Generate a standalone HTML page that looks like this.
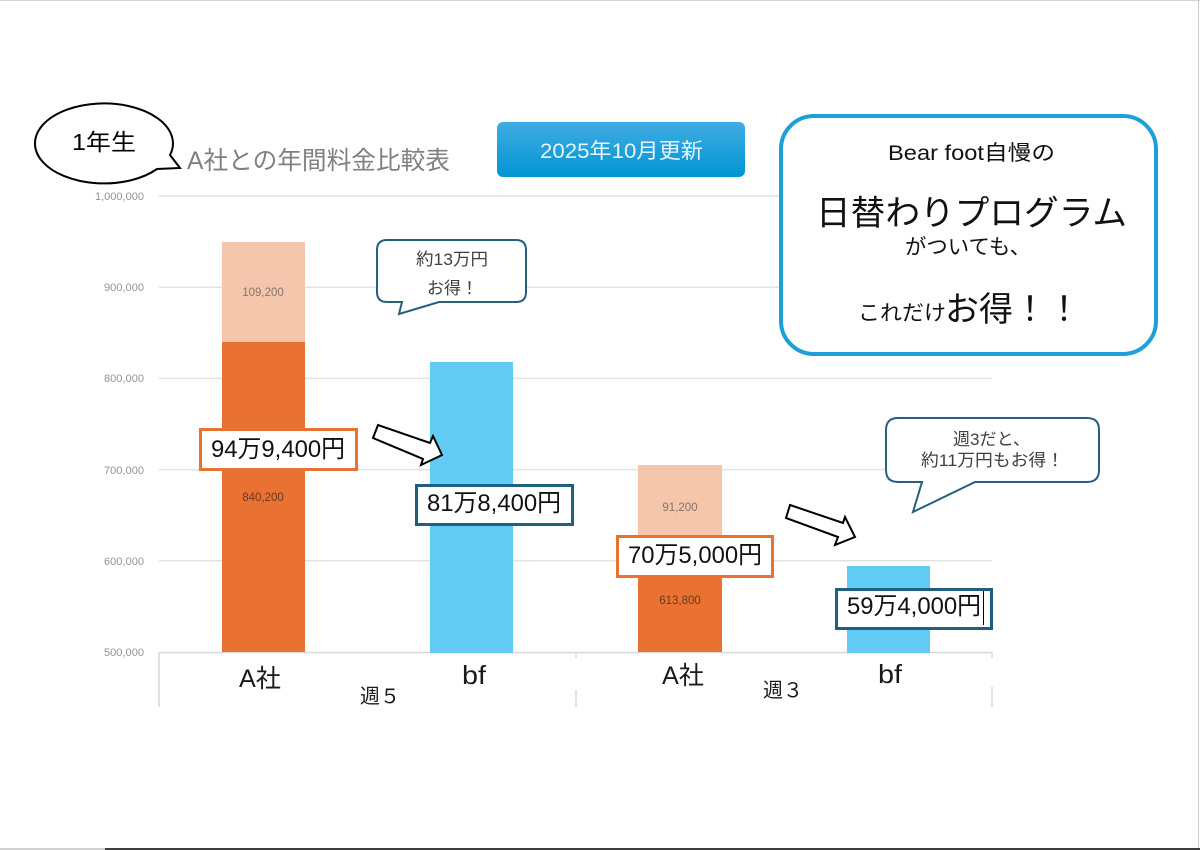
<!DOCTYPE html>
<html>
<head>
<meta charset="utf-8">
<style>
html,body{margin:0;padding:0;background:#fff;}
svg{display:block;}
text{font-family:"Liberation Sans","Noto Sans CJK JP",sans-serif;}
</style>
</head>
<body>
<svg width="1200" height="850" viewBox="0 0 1200 850" xmlns="http://www.w3.org/2000/svg">
  <defs>
    <linearGradient id="btn" x1="0" y1="0" x2="0" y2="1">
      <stop offset="0" stop-color="#41ACE2"/>
      <stop offset="1" stop-color="#0095D3"/>
    </linearGradient>
  </defs>
  <rect x="0" y="0" width="1200" height="850" fill="#ffffff"/>
  <!-- page borders -->
  <line x1="0" y1="0.5" x2="1200" y2="0.5" stroke="#d4d4d4" stroke-width="1"/>
  <line x1="1198.5" y1="0" x2="1198.5" y2="848" stroke="#c8c8c8" stroke-width="1"/>
  <rect x="0" y="848" width="105" height="2" fill="#d0d0d0"/>
  <rect x="105" y="848" width="1095" height="2" fill="#3f3f3f"/>

  <!-- gridlines -->
  <g stroke="#e2e2e2" stroke-width="1.5">
    <line x1="159" y1="196" x2="992" y2="196"/>
    <line x1="159" y1="287.2" x2="992" y2="287.2"/>
    <line x1="159" y1="378.4" x2="992" y2="378.4"/>
    <line x1="159" y1="469.6" x2="992" y2="469.6"/>
    <line x1="159" y1="560.8" x2="992" y2="560.8"/>
  </g>
  <line x1="159" y1="652.5" x2="992" y2="652.5" stroke="#d9d9d9" stroke-width="1.5"/>
  <g stroke="#d9d9d9" stroke-width="1.5">
    <line x1="159" y1="652" x2="159" y2="707"/>
    <line x1="576" y1="652" x2="576" y2="658"/>
    <line x1="576" y1="690" x2="576" y2="707"/>
    <line x1="992" y1="652" x2="992" y2="658"/>
    <line x1="992" y1="687" x2="992" y2="707"/>
  </g>

  <!-- y labels -->
  <g font-size="11" fill="#939393" text-anchor="end">
    <text x="144" y="200" textLength="49" lengthAdjust="spacingAndGlyphs">1,000,000</text>
    <text x="144" y="291" textLength="40" lengthAdjust="spacingAndGlyphs">900,000</text>
    <text x="144" y="382" textLength="40" lengthAdjust="spacingAndGlyphs">800,000</text>
    <text x="144" y="474" textLength="40" lengthAdjust="spacingAndGlyphs">700,000</text>
    <text x="144" y="565" textLength="40" lengthAdjust="spacingAndGlyphs">600,000</text>
    <text x="144" y="656" textLength="40" lengthAdjust="spacingAndGlyphs">500,000</text>
  </g>

  <!-- bars -->
  <rect x="222" y="242" width="83" height="100" fill="#F5C6AB"/>
  <rect x="222" y="342" width="83" height="310" fill="#E97132"/>
  <rect x="430" y="362" width="83" height="291" fill="#61CBF3"/>
  <rect x="638" y="465" width="84" height="83" fill="#F5C6AB"/>
  <rect x="638" y="548" width="84" height="104" fill="#E97132"/>
  <rect x="847" y="566" width="83" height="87" fill="#61CBF3"/>

  <!-- bar value labels -->
  <g font-size="11.5" text-anchor="middle">
    <text x="263" y="296" fill="#857468">109,200</text>
    <text x="263" y="501" fill="#6a3a1e">840,200</text>
    <text x="680" y="511" fill="#857468">91,200</text>
    <text x="680" y="604" fill="#6a3a1e">613,800</text>
  </g>

  <!-- category labels -->
  <g fill="#1a1a1a">
    <text x="239" y="687" font-size="25" textLength="42" lengthAdjust="spacingAndGlyphs">A社</text>
    <text x="462" y="684" font-size="26" textLength="24" lengthAdjust="spacingAndGlyphs">bf</text>
    <text x="360" y="703" font-size="20" textLength="40" lengthAdjust="spacingAndGlyphs">週５</text>
    <text x="662" y="684" font-size="25" textLength="42" lengthAdjust="spacingAndGlyphs">A社</text>
    <text x="878" y="683" font-size="26" textLength="24" lengthAdjust="spacingAndGlyphs">bf</text>
    <text x="763" y="697" font-size="20" textLength="40" lengthAdjust="spacingAndGlyphs">週３</text>
  </g>

  <!-- arrows -->
  <polygon points="378,425 430,443 433,436 442,455 421,465 423,459 373,438" fill="#ffffff" stroke="#000" stroke-width="2" stroke-linejoin="miter"/>
  <polygon points="790,505 843,523 845,517 855,537 835,545 838,537 786,518" fill="#ffffff" stroke="#000" stroke-width="2" stroke-linejoin="miter"/>

  <!-- value boxes -->
  <rect x="200.5" y="429.5" width="156" height="40" fill="#fff" stroke="#E97132" stroke-width="3"/>
  <rect x="416.5" y="485.5" width="156" height="39" fill="#fff" stroke="#1F5F7F" stroke-width="3"/>
  <rect x="617.5" y="536.5" width="155" height="40" fill="#fff" stroke="#E97132" stroke-width="3"/>
  <rect x="836.5" y="589.5" width="155" height="39" fill="#fff" stroke="#1F5F7F" stroke-width="3"/>
  <g font-size="24.5" fill="#111">
    <text x="211" y="457" textLength="134" lengthAdjust="spacingAndGlyphs">94万9,400円</text>
    <text x="427" y="511" textLength="134" lengthAdjust="spacingAndGlyphs">81万8,400円</text>
    <text x="628" y="563" textLength="134" lengthAdjust="spacingAndGlyphs">70万5,000円</text>
    <text x="847" y="614" textLength="134" lengthAdjust="spacingAndGlyphs">59万4,000円</text>
  </g>
  <line x1="983.5" y1="591" x2="983.5" y2="625" stroke="#000" stroke-width="1"/>

  <!-- speech bubble 1 -->
  <path d="M387,240 H516 Q526,240 526,250 V292 Q526,302 516,302 H439 L399,314 L402,302 H387 Q377,302 377,292 V250 Q377,240 387,240 Z" fill="#fff" stroke="#25607F" stroke-width="2"/>
  <g font-size="17" fill="#404040">
    <text x="416" y="265" textLength="72" lengthAdjust="spacingAndGlyphs">約13万円</text>
    <text x="427" y="294" textLength="51" lengthAdjust="spacingAndGlyphs">お得！</text>
  </g>

  <!-- speech bubble 2 -->
  <path d="M898,418 H1087 Q1099,418 1099,430 V470 Q1099,482 1087,482 H975 L913,512 L922,482 H898 Q886,482 886,470 V430 Q886,418 898,418 Z" fill="#fff" stroke="#25607F" stroke-width="2"/>
  <g font-size="17" fill="#404040">
    <text x="953" y="445" textLength="77" lengthAdjust="spacingAndGlyphs">週3だと、</text>
    <text x="921" y="466" textLength="143" lengthAdjust="spacingAndGlyphs">約11万円もお得！</text>
  </g>

  <!-- 1年生 bubble -->
  <path d="M170,155 A69,40 0 1,0 157,169 L180,168 Z" fill="#fff" stroke="#000" stroke-width="2" stroke-linejoin="miter"/>
  <text x="72" y="150" font-size="23" fill="#000" textLength="64" lengthAdjust="spacingAndGlyphs">1年生</text>

  <!-- title -->
  <text x="187" y="169" font-size="25" fill="#808080" textLength="263" lengthAdjust="spacingAndGlyphs">A社との年間料金比較表</text>

  <!-- button -->
  <rect x="497" y="122" width="248" height="55" rx="6" ry="6" fill="url(#btn)"/>
  <text x="540" y="158" font-size="21" fill="#e6f5ff" textLength="163" lengthAdjust="spacingAndGlyphs">2025年10月更新</text>

  <!-- right box -->
  <rect x="781" y="116" width="375" height="238" rx="33" ry="33" fill="#fff" stroke="#1E9FD8" stroke-width="4"/>
  <g fill="#111">
    <text x="888" y="160" font-size="21" textLength="167" lengthAdjust="spacingAndGlyphs">Bear foot自慢の</text>
    <text x="816" y="225" font-size="34.5" textLength="311" lengthAdjust="spacingAndGlyphs">日替わりプログラム</text>
    <text x="905" y="254" font-size="21" textLength="126" lengthAdjust="spacingAndGlyphs">がついても、</text>
    <text x="858" y="320" font-size="21" textLength="88" lengthAdjust="spacingAndGlyphs">これだけ</text>
    <text x="945" y="321" font-size="34">お得！！</text>
  </g>
</svg>
</body>
</html>
